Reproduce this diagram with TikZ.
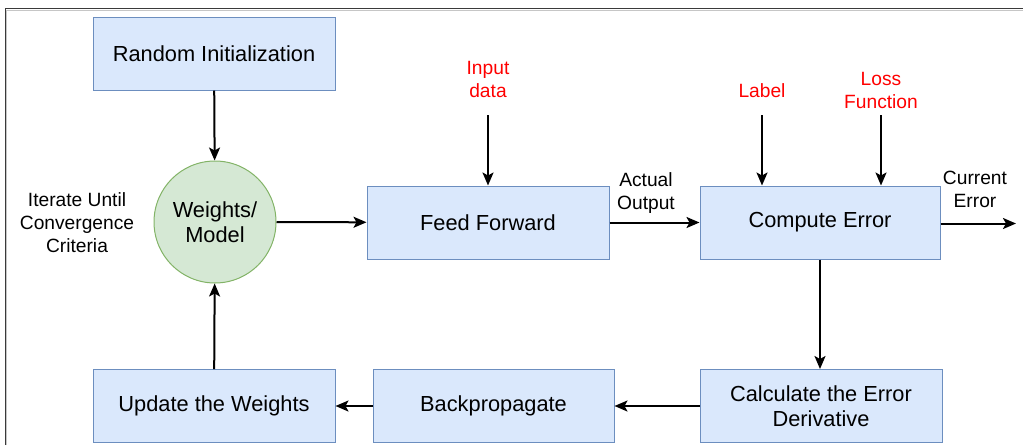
\documentclass[tikz,border=0pt]{standalone}
\usepackage{fontspec}
\setmainfont{Liberation Sans}
\usetikzlibrary{arrows.meta}

\definecolor{boxfill}{HTML}{DAE8FC}
\definecolor{boxline}{HTML}{6C8EBF}
\definecolor{modelfill}{HTML}{D5E8D4}
\definecolor{modelline}{HTML}{82B366}
\definecolor{inred}{HTML}{FF0000}
\definecolor{framegray}{HTML}{3A3A3A}

\tikzset{
  stepbox/.style={draw=boxline, fill=boxfill, line width=1pt,
    minimum width=242pt, minimum height=73pt, inner sep=0pt,
    align=center, font=\fontsize{21.8}{24.5}\selectfont},
  modelnode/.style={circle, draw=modelline, fill=modelfill, line width=1pt,
    minimum size=122pt, inner sep=0pt, align=center,
    font=\fontsize{21.8}{24.5}\selectfont},
  note/.style={align=center, inner sep=0pt, font=\fontsize{19.2}{23}\selectfont},
  rednote/.style={note, text=inred},
  flow/.style={line width=2pt, -{Stealth[length=13pt, width=11pt, inset=3pt]}}
}

\begin{document}
\begin{tikzpicture}[x=1pt, y=-1pt]
  \useasboundingbox (0,0) rectangle (1023,445);

  % outer frame (top and left edges)
  \draw[framegray, line width=1.6pt] (5.5,445) -- (5.5,8.5) -- (1023,8.5);
  \draw[gray!45, line width=1pt] (6.8,445) -- (6.8,10) -- (1023,10);

  % process steps
  \node[stepbox] (init) at (214,53.5) {Random Initialization};
  \node[modelnode] (model) at (215,222) {Weights/\\Model};
  \node[stepbox] (ff) at (488,222.5) {Feed Forward};
  \node[stepbox, minimum width=240pt] (ce) at (820,222.5) {Compute Error};
  \node[stepbox] (calc) at (821,406) {Calculate the Error\\Derivative};
  \node[stepbox, minimum width=241pt] (bp) at (493.5,406) {Backpropagate};
  \node[stepbox] (upd) at (214,406) {Update the Weights};

  % inputs and annotations
  \node[rednote] (input) at (488,79) {Input\\data};
  \node[rednote] (label) at (762,91) {Label};
  \node[rednote] (loss) at (881,90) {Loss\\Function};
  \node[note] (actual) at (646,193) {Actual\\Output};
  \node[note] (current) at (975,189) {Current\\Error};
  \node[note] (iterate) at (77,223) {Iterate Until\\Convergence\\Criteria};

  \coordinate (inputTail) at (488,115);
  \coordinate (labelTail) at (762,115);
  \coordinate (lossTail) at (881,115);
  \coordinate (errOut) at (1016,223.5);

  % connectors
  \draw[flow] (init) -- (model);
  \draw[flow] (model) -- (ff);
  \draw[flow] (inputTail) -- (inputTail |- ff.north);
  \draw[flow] (ff) -- (ce);
  \draw[flow] (labelTail) -- (labelTail |- ce.north);
  \draw[flow] (lossTail) -- (lossTail |- ce.north);
  \draw[flow] (ce.east |- errOut) -- (errOut);
  \draw[flow] (ce) -- (ce.south |- calc.north);
  \draw[flow] (calc) -- (bp);
  \draw[flow] (bp) -- (upd);
  \draw[flow] (upd) -- (model);
\end{tikzpicture}
\end{document}
